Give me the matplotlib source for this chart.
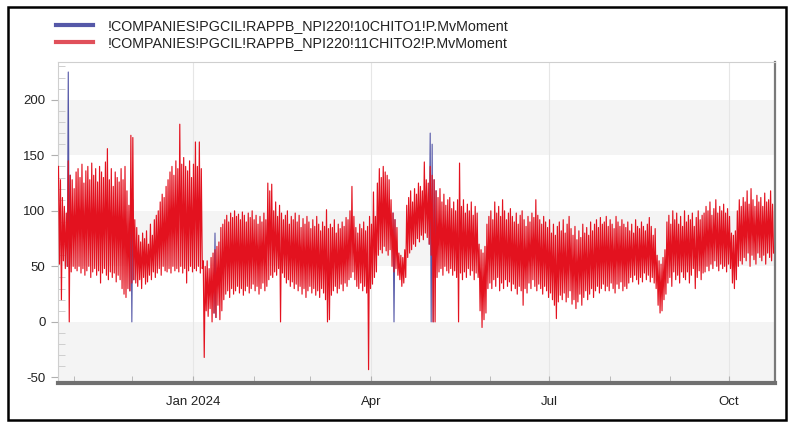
import matplotlib
matplotlib.use("Agg")
import matplotlib.pyplot as plt
import matplotlib.dates as mdates
from matplotlib.patches import Rectangle
from matplotlib.lines import Line2D
import numpy as np
import pandas as pd

plt.rcParams['font.family'] = ['Liberation Sans', 'DejaVu Sans']
plt.rcParams['axes.unicode_minus'] = False

## Data (daily high / low, first day 2023-10-24)
start = "2023-10-24"
label_a = "!COMPANIES!PGCIL!RAPPB_NPI220!10CHITO1!P.MvMoment"
label_b = "!COMPANIES!PGCIL!RAPPB_NPI220!11CHITO2!P.MvMoment"

red_high = [
    140, 128, 112, 104, 98, 145, 132, 128, 120, 135,
    138, 130, 142, 125, 136, 140, 128, 143, 132, 138,
    126, 140, 135, 130, 144, 156, 128, 138, 122, 135,
    130, 126, 138, 128, 140, 118, 105, 168, 166, 92,
    85, 78, 72, 80, 75, 82, 70, 88, 78, 92,
    96, 100, 108, 115, 112, 122, 128, 135, 140, 132,
    145, 138, 178, 142, 148, 140, 136, 145, 130, 142,
    162, 140, 162, 138, 55, 50, 55, 48, 58, 62,
    65, 68, 72, 85, 88, 92, 96, 90, 98, 94,
    100, 95, 97, 92, 99, 96, 90, 98, 94, 100,
    92, 96, 88, 95, 90, 98, 92, 125, 118, 124,
    100, 108, 95, 105, 98, 92, 96, 100, 88, 95,
    92, 98, 90, 96, 85, 93, 88, 95, 90, 84,
    92, 86, 95, 88, 82, 90, 86, 101, 84, 88,
    85, 92, 80, 88, 84, 90, 86, 94, 92, 100,
    122, 95, 85, 80, 88, 84, 90, 82, 86, 95,
    88, 117, 95, 125, 138, 130, 140, 135, 132, 128,
    110, 98, 92, 85, 62, 60, 58, 65, 105, 112,
    118, 108, 120, 115, 125, 122, 118, 144, 128, 125,
    140, 132, 128, 118, 112, 120, 108, 115, 105, 110,
    112, 102, 108, 100, 110, 143, 104, 110, 98, 106,
    100, 108, 96, 104, 98, 70, 65, 62, 68, 88,
    95, 100, 92, 108, 98, 104, 95, 110, 100, 92,
    98, 102, 95, 90, 98, 88, 96, 100, 92, 86,
    95, 90, 98, 94, 110, 96, 92, 88, 95, 90,
    85, 92, 80, 88, 78, 86, 90, 82, 92, 80,
    88, 95, 84, 78, 86, 74, 82, 76, 88, 80,
    85, 78, 90, 82, 88, 92, 85, 94, 88, 90,
    95, 86, 92, 88, 84, 95, 90, 86, 92, 88,
    85, 90, 82, 88, 80, 92, 86, 84, 90, 86,
    82, 88, 94, 86, 78, 84, 60, 55, 52, 58,
    65, 90, 96, 88, 100, 92, 98, 88, 95, 86,
    100, 90, 96, 92, 98, 86, 94, 100, 92, 96,
    98, 104, 100, 108, 96, 102, 110, 98, 104, 100,
    106, 98, 102, 95, 80, 78, 82, 100, 110, 104,
    112, 108, 118, 106, 120, 110, 104, 114, 108, 112,
    104, 116, 108, 110, 118, 106,
]

red_low = [
    52, 20, 55, 48, 50, 0, 45, 50, 48, 46,
    50, 44, 48, 42, 46, 50, 40, 45, 48, 42,
    46, 35, 44, 48, 42, 38, 45, 40, 44, 36,
    42, 38, 30, 25, 22, 30, 28, 35, 38, 35,
    32, 38, 30, 40, 34, 36, 42, 38, 45, 40,
    44, 48, 42, 50, 46, 45, 48, 44, 50, 46,
    48, 45, 50, 44, 48, 35, 46, 50, 45, 48,
    46, 50, 44, 48, -32, 10, 5, 12, 0, 8,
    4, 15, 2, 10, 20, 25, 28, 22, 30, 25,
    28, 32, 26, 30, 24, 28, 32, 26, 30, 34,
    28, 32, 25, 30, 35, 28, 32, 38, 42, 40,
    45, 42, 48, 0, 44, 40, 35, 38, 32, 36,
    30, 34, 28, 32, 25, 30, 22, 28, 32, 26,
    30, 24, 28, 22, 30, 26, 20, 0, 2, 24,
    28, 32, 26, 30, 34, 28, 35, 32, 38, 40,
    45, 38, 32, 30, 35, 28, 32, 26, -43, 30,
    34, 40, 45, 60, 65, 62, 68, 64, 60, 65,
    50, 45, 48, 42, 38, 32, 35, 40, 58, 62,
    65, 70, 68, 75, 72, 78, 74, 80, 76, 70,
    60, 0, 0, 40, 45, 48, 42, 50, 46, 44,
    48, 42, 46, 40, 0, 44, 38, 45, 40, 48,
    42, 46, 38, 44, 40, 10, -5, 2, 8, 30,
    35, 30, 38, 32, 40, 28, 35, 30, 38, 32,
    36, 28, 34, 30, 25, 32, 28, 15, 30, 26,
    35, 30, 38, 32, 28, 34, 30, 25, 32, 28,
    22, 26, 20, 15, 3, 18, 24, 20, 26, 18,
    22, 28, 16, 20, 12, 18, 25, 15, 22, 28,
    20, 25, 30, 22, 28, 32, 26, 30, 34, 28,
    32, 28, 35, 30, 26, 34, 30, 36, 28, 32,
    30, 35, 40, 36, 42, 38, 34, 40, 36, 44,
    38, 42, 36, 40, 35, 30, 15, 8, 10, 20,
    25, 35, 40, 32, 45, 38, 42, 35, 45, 40,
    38, 45, 35, 42, 48, 30, 40, 46, 38, 44,
    45, 50, 46, 52, 48, 55, 50, 46, 52, 48,
    50, 45, 52, 48, 35, 30, 38, 50, 55, 52,
    58, 55, 62, 50, 60, 56, 52, 62, 58, 55,
    60, 52, 62, 58, 55, 62,
]

# the blue series follows the red one except on these days
blue_high_diff = {5: 225, 37: 120, 38: 110, 80: 80, 190: 170, 191: 160}
blue_low_diff = {5: 48, 37: 0, 171: 0, 190: 0, 191: 0, 192: 40}

days = pd.date_range(start, periods=len(red_high), freq="D")


def zigzag(high, low):
    t = np.empty(2 * len(days), dtype="datetime64[ns]")
    v = np.empty(2 * len(days))
    t[0::2] = days + pd.Timedelta(hours=6)
    t[1::2] = days + pd.Timedelta(hours=18)
    v[0::2] = high
    v[1::2] = low
    return t, v


blue_high = list(red_high)
blue_low = list(red_low)
for k, val in blue_high_diff.items():
    blue_high[k] = val
for k, val in blue_low_diff.items():
    blue_low[k] = val

tb, vb = zigzag(blue_high, blue_low)
tr, vr = zigzag(red_high, red_low)

# where both series coincide the red one hides the blue one completely,
# so only keep the blue strokes that differ (and their neighbours)
diff = vb != vr
show = diff | np.roll(diff, 1) | np.roll(diff, -1)
vb_vis = np.where(show, vb, np.nan)

fig = plt.figure(figsize=(7.93, 4.23), dpi=100)
ax = fig.add_axes([58 / 793, 1 - 383 / 423, (775 - 58) / 793, (383 - 62) / 423])

ymin, ymax = -55, 234
# alternating background bands
for lo, hi in [(ymin, 0), (50, 100), (150, 200)]:
    ax.axhspan(lo, hi, color="#f4f4f4", lw=0, zorder=0)

ax.plot(tb, vb_vis, color="#5558a8", lw=0.8, zorder=2)
ax.plot(tr, vr, color="#e3121f", lw=0.85, zorder=3)

ax.set_ylim(ymin, ymax)
ax.set_xlim(pd.Timestamp(start), days[-1] + pd.Timedelta(days=1.5))


def month_label(x, pos):
    d = mdates.num2date(x)
    return d.strftime("%b %Y") if d.month == 1 else d.strftime("%b")


ax.xaxis.set_major_locator(mdates.MonthLocator(bymonth=[1, 4, 7, 10]))
ax.xaxis.set_minor_locator(mdates.MonthLocator())
ax.xaxis.set_major_formatter(plt.FuncFormatter(month_label))
ax.set_yticks([-50, 0, 50, 100, 150, 200])
ax.set_yticks(np.arange(-50, 231, 10), minor=True)
ax.grid(axis="x", which="major", color="#e6e6e6", lw=0.8, zorder=1)

ax.tick_params(axis="x", which="both", direction="in", length=5, color="#b0b0b0",
               labelsize=9.5, labelcolor="#222222", pad=9)
ax.tick_params(axis="y", which="major", direction="out", length=5, color="#b0b0b0",
               labelsize=9.5, labelcolor="#222222", pad=4)
ax.tick_params(axis="y", which="minor", direction="in", length=5, color="#c8c8c8")

for side in ["left", "top"]:
    ax.spines[side].set_color("#cfcfcf")
    ax.spines[side].set_linewidth(0.8)
ax.spines["right"].set_color("#7a7a7a")
ax.spines["right"].set_linewidth(1.6)
ax.spines["bottom"].set_color("#707070")
ax.spines["bottom"].set_linewidth(3)

handles = [Line2D([], [], color="#5558a8", lw=3), Line2D([], [], color="#e0505a", lw=3)]
fig.legend(handles, [label_a, label_b], loc="upper left",
           bbox_to_anchor=(56 / 793, 1 - 19 / 423), frameon=False, fontsize=10.3,
           handlelength=2.6, handletextpad=1.0, labelspacing=0.2, borderpad=0,
           borderaxespad=0, labelcolor="#222222")

# outer frame
fig.add_artist(Rectangle((8 / 793, 1 - 420 / 423), (786 - 8) / 793, (420 - 7) / 423,
                         transform=fig.transFigure, fill=False, ec="black", lw=1.8))

fig.savefig("out.png", dpi=100)
